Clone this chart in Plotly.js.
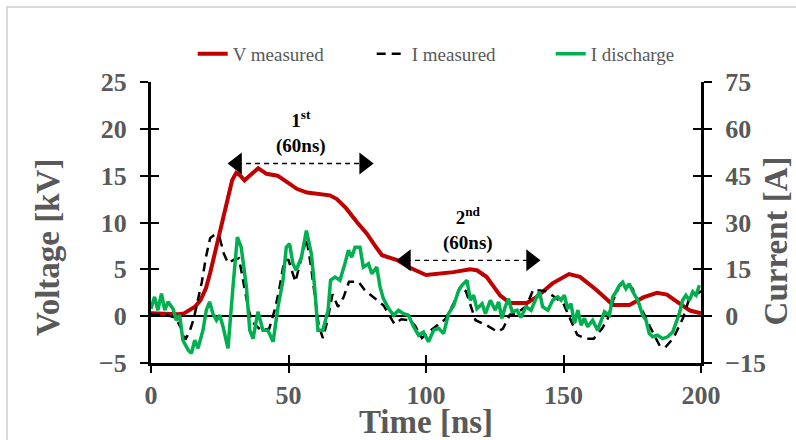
<!DOCTYPE html>
<html>
<head>
<meta charset="utf-8">
<script src="https://cdn.plot.ly/plotly-3.0.1.min.js"></script>
<style>
  html, body { margin: 0; padding: 0; background: #fff; }
  #wrap { position: relative; width: 796px; height: 440px; overflow: hidden; }
  #chart { width: 796px; height: 440px; }
  #frame { position: absolute; left: 6px; top: 6px; width: 900px; height: 600px;
           border-left: 2px solid #d9d9d9; border-top: 2px solid #d9d9d9; pointer-events: none; }
</style>
</head>
<body>
<div id="wrap"><div id="chart"></div><div id="frame"></div></div>
<script>
// ---- Data ----
const vTime = [0, 5, 10, 12, 14, 16, 18, 20, 21.5, 23, 25, 27.6, 29.5, 31, 32.5, 34, 36, 39, 42, 46, 49.5, 53, 56.7, 61.5, 65, 67.6, 71, 75, 78.5, 82, 84, 89.5, 94, 100, 105, 110, 116, 118.5, 122, 127, 130.5, 136.7, 140, 146, 152, 156, 162, 168, 174, 179, 184, 187.6, 192, 196, 200];
const vMeasured = [0.3, 0.2, 0.2, 0.3, 0.6, 1.0, 1.7, 3.0, 4.6, 6.5, 8.8, 12.3, 14.5, 15.3, 15.0, 14.5, 15.0, 15.8, 15.2, 15.0, 14.3, 13.6, 13.2, 13.0, 12.9, 12.5, 11.5, 10.0, 8.8, 7.3, 6.5, 6.0, 5.2, 4.4, 4.5, 4.7, 5.0, 4.9, 4.2, 2.2, 1.4, 1.4, 2.0, 3.5, 4.5, 4.2, 2.8, 1.2, 1.2, 2.0, 2.5, 2.3, 1.4, 0.6, 0.3];

const imTime = [0, 3, 6, 9, 11, 12.5, 14, 15.5, 17, 18.5, 20, 21.5, 23, 25, 26.5, 28, 30, 32, 34, 35.5, 37, 40, 43, 45, 46.5, 48.5, 50, 52.5, 54.5, 56.5, 58, 59.5, 61, 62.5, 64, 66, 68, 70, 72, 75.5, 78, 80, 84.5, 88.5, 91, 94, 96, 98.5, 101, 104, 107, 110, 112.5, 114.5, 116.5, 118, 122, 126, 128, 130.5, 133, 136.5, 139, 143.5, 147, 150, 153, 155, 158, 161, 164, 166, 168, 170.5, 173, 175, 177.5, 179.5, 181.5, 185, 187, 190, 193.5, 195.5, 198, 200];
const iMeasured = [0.5, 0.5, 0.3, -0.5, -4, -7.5, -5, -1, 4.5, 11, 19, 25, 26, 25, 20, 17, 18, 18.5, 9, 2, -2, -4.5, -4, 2, 8, 18, 18, 11, 18, 25, 17, 6, -3, -7, -2, 7, 3, 6, 11, 11, 8, 6.7, 3.5, -2.5, -1, -1.3, -3, -7, -5, -3, -1, 4, 9.5, 8, 3, -1.3, -2.9, -5, -4, 0.5, 1, 3.2, 8.5, 8, 6, 4, -2, -6, -7.2, -7.2, -4, -1, 5, 10, 10, 9, 4, 0, -3.5, -9.5, -10, -7, -0.5, 5, 7, 8];

const idTime = [0, 1.3, 2.5, 3.8, 5, 6.2, 8, 9.2, 10.4, 11.6, 13.5, 14.7, 15.9, 17.1, 18.9, 20.1, 21.3, 22.5, 23.8, 25, 26.2, 28, 29.8, 31.4, 32.8, 34.7, 35.9, 37.1, 38.9, 40.7, 42.5, 44.4, 46.2, 48, 49.2, 50.4, 51.6, 52.8, 54.7, 56.5, 58.3, 59.5, 60.7, 62.5, 64.4, 65.3, 66.9, 68.7, 70.5, 71.8, 73, 74.2, 76, 77.2, 79.1, 80.3, 82.1, 83.3, 84.5, 86.4, 88.2, 90, 91.8, 93.6, 95.5, 97.3, 99.1, 100.9, 102.8, 104.6, 106.4, 108.2, 110.1, 111.9, 113.1, 114.9, 116.1, 117.3, 118.5, 120.4, 121.6, 123.4, 125.2, 126.4, 127.6, 128.8, 130, 131.3, 133.1, 134.5, 136.4, 138.2, 140, 141.3, 142.4, 144.3, 146.1, 147.9, 149.1, 150.3, 151.5, 152.7, 154, 155.2, 156.4, 157.6, 158.8, 160.6, 162.4, 163.7, 164.9, 166.7, 167.9, 169.1, 170.3, 171.5, 172.7, 173.9, 175.2, 177, 178.8, 180, 181.2, 182.4, 184.2, 186.1, 187.9, 189.7, 190.9, 192.1, 193.3, 194.5, 195.8, 197, 198.2, 199.4];
const iDischarge = [2.4, 6.2, 1.9, 7.2, 1.9, 4.6, 2.4, -1.3, 0.3, -7.7, -10.8, -11.9, -7.7, -10.3, -4.5, 1.9, 4.6, 0.8, -1.3, 0.3, -3.4, -10.3, 9.3, 25.3, 22.1, 9.3, -4.5, -7.2, 1.4, -4.5, -4.5, -8.2, 3.0, 11.5, 22.1, 23.2, 16.8, 14.7, 18.9, 27.4, 20.0, 9.3, -4.5, -4.5, 1.9, 11.5, 12.5, 11.5, 16.8, 21.1, 18.9, 22.1, 22.1, 15.7, 16.8, 13.6, 15.7, 9.3, 5.6, 2.4, 0.3, 1.9, 0.8, 0.3, -3.4, -6.1, -5.1, -8.2, -4.5, -3.9, -5.6, 0.8, 3.5, 8.3, 9.9, 11.5, 5.1, 6.7, 2.4, 4.0, 0.8, 5.1, 1.9, 4.6, -0.7, 3.0, 5.6, 1.4, 1.9, -0.4, 3.0, 1.9, 5.6, 7.8, 3.0, 1.9, 5.1, 6.2, 5.1, 6.7, 2.4, 4.0, -2.3, 1.9, -2.9, -0.7, -3.4, -1.3, -4.5, -1.3, 1.4, 0.3, 6.2, 7.8, 9.9, 10.9, 8.8, 10.4, 7.8, 5.1, 0.3, -1.3, -5.6, -6.6, -6.1, -7.2, -6.6, -5.1, -2.3, 0.8, 5.1, 6.7, 5.1, 7.8, 6.7, 9.9];

// Pulse-width arrows and their labels
const arrow1X = [31.3, 77.5], arrow1Y = [16.3, 16.3];
const arrow2X = [92.7, 138.2], arrow2Y = [5.96, 5.96];
const labelTexts = ['1<sup>st</sup><br>(60ns)', '2<sup>nd</sup><br>(60ns)'];
const labelX = [54.5, 115.3], labelY = [19.7, 9.3];

const xTicks = [0, 50, 100, 150, 200];
const vTicks = [-5, 0, 5, 10, 15, 20, 25];
const iTicks = [-15, 0, 15, 30, 45, 60, 75];

const serif = 'Liberation Serif, Times New Roman, serif';
const gray = '#595959';

const traces = [
  { x: vTime, y: vMeasured, name: 'V measured', type: 'scatter', mode: 'lines',
    line: { color: '#c00000', width: 4 }, yaxis: 'y' },
  { x: imTime, y: iMeasured, name: 'I measured', type: 'scatter', mode: 'lines',
    line: { color: '#000000', width: 2.5, dash: '9px,6px' }, yaxis: 'y2' },
  { x: idTime, y: iDischarge, name: 'I discharge', type: 'scatter', mode: 'lines',
    line: { color: '#00b050', width: 3.5 }, yaxis: 'y2' },
  { x: arrow1X, y: arrow1Y, type: 'scatter', mode: 'lines+markers', showlegend: false, hoverinfo: 'skip',
    line: { color: '#000', width: 1.3, dash: '5px,4px' },
    marker: { symbol: ['triangle-left', 'triangle-right'], size: 19, color: '#000' }, yaxis: 'y' },
  { x: arrow2X, y: arrow2Y, type: 'scatter', mode: 'lines+markers', showlegend: false, hoverinfo: 'skip',
    line: { color: '#000', width: 1.3, dash: '5px,4px' },
    marker: { symbol: ['triangle-left', 'triangle-right'], size: 19, color: '#000' }, yaxis: 'y' }
];

const tickFont = { family: serif, size: 26, color: gray, weight: 'bold' };
const titleFont = { family: serif, size: 33, color: gray, weight: 'bold' };

const layout = {
  width: 796, height: 440,
  margin: { l: 151, r: 95, t: 82, b: 77 },
  paper_bgcolor: '#fff', plot_bgcolor: '#fff',
  showlegend: true,
  legend: { orientation: 'h', x: 0.564, xanchor: 'center', y: 1.1, yanchor: 'middle',
            font: { family: serif, size: 19, color: gray }, entrywidth: 134, entrywidthmode: 'pixels',
            itemwidth: 30, bgcolor: 'rgba(0,0,0,0)' },
  xaxis: { range: [0, 200], tickvals: xTicks, ticks: 'outside', ticklen: 7, tickwidth: 2, tickcolor: '#000',
           showline: true, linewidth: 3, linecolor: '#000', showgrid: false, zeroline: false,
           tickfont: tickFont, ticklabelstandoff: 0,
           title: { text: 'Time [ns]', font: titleFont, standoff: 1 } },
  xaxis2: { range: [0, 200], tickvals: xTicks, overlaying: 'x', ticks: 'inside', ticklen: 8, tickwidth: 2,
            tickcolor: '#000', showticklabels: false, showline: false, showgrid: false, zeroline: false },
  yaxis: { range: [-5, 25], tickvals: vTicks, ticks: 'outside', ticklen: 8, tickwidth: 2, tickcolor: '#000',
           showline: true, linewidth: 3, linecolor: '#000', showgrid: false,
           zeroline: true, zerolinecolor: '#000', zerolinewidth: 1.5,
           tickfont: tickFont, ticklabelstandoff: 8 },
  yaxis2: { range: [-15, 75], tickvals: iTicks, overlaying: 'y', side: 'right', ticks: 'outside', ticklen: 8,
            tickwidth: 2, tickcolor: '#000', showline: true, linewidth: 3, linecolor: '#000',
            showgrid: false, zeroline: false, tickfont: tickFont, ticklabelstandoff: 8 },
  yaxis3: { range: [-5, 25], tickvals: vTicks, overlaying: 'y', side: 'left', ticks: 'inside', ticklen: 8,
            tickwidth: 2, tickcolor: '#000', showticklabels: false, showline: false, showgrid: false, zeroline: false },
  yaxis4: { range: [-15, 75], tickvals: iTicks, overlaying: 'y', side: 'right', ticks: 'inside', ticklen: 8,
            tickwidth: 2, tickcolor: '#000', showticklabels: false, showline: false, showgrid: false, zeroline: false },
  annotations: labelTexts.map((t, i) => ({
    x: labelX[i], y: labelY[i], xref: 'x', yref: 'y', text: t, showarrow: false,
    font: { family: serif, size: 19, color: '#000', weight: 'bold' }, align: 'center'
  })).concat([
    { xref: 'paper', yref: 'paper', x: -0.187, y: 0.413, text: 'Voltage [kV]', textangle: -90,
      showarrow: false, font: titleFont, xanchor: 'center', yanchor: 'middle' },
    { xref: 'paper', yref: 'paper', x: 1.137, y: 0.434, text: 'Current [A]', textangle: -90,
      showarrow: false, font: titleFont, xanchor: 'center', yanchor: 'middle' }
  ])
};

// dummy traces so overlay tick axes are drawn
traces.push({ x: [null], y: [null], xaxis: 'x2', yaxis: 'y3', showlegend: false, hoverinfo: 'skip', type: 'scatter' });
traces.push({ x: [null], y: [null], xaxis: 'x2', yaxis: 'y4', showlegend: false, hoverinfo: 'skip', type: 'scatter' });

Plotly.newPlot('chart', traces, layout, { staticPlot: true, displayModeBar: false });
</script>
</body>
</html>
